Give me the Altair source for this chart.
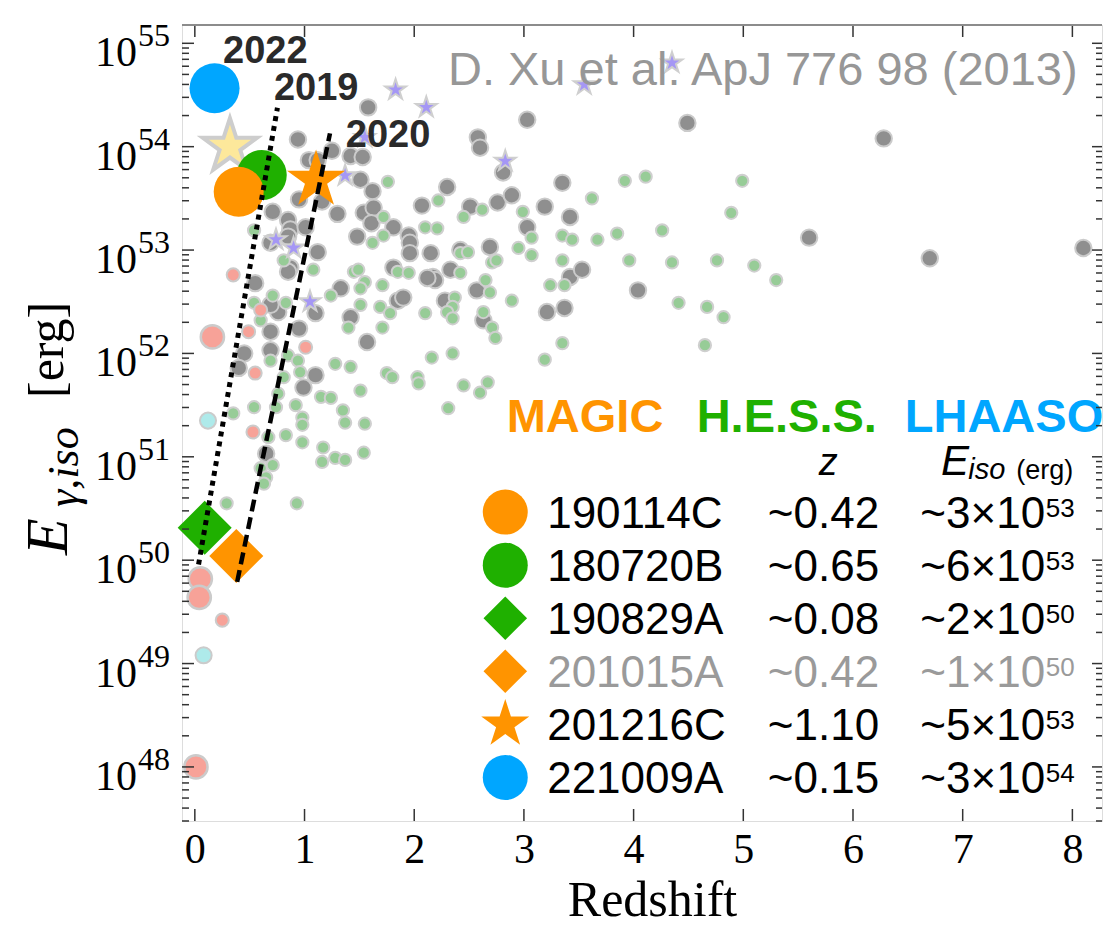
import math
import altair as alt
import pandas as pd

# ---------------- background GRB sample ----------------
grey_z = [1.58, 0.94, 1.25, 1.42, 1.53, 1.04, 1.12, 1.51, 1.62, 0.95, 1.16, 1.30, 0.71, 0.85, 0.87, 1.01,
          1.54, 1.63, 1.61, 1.48, 0.69, 0.85, 1.12, 0.87, 1.81, 1.81,
          3.03, 2.58, 2.60, 2.81, 2.30, 2.07, 2.51, 2.76, 2.89, 3.19, 3.35, 3.42, 3.03, 1.95, 1.96, 1.96,
          2.15, 2.42, 2.69, 2.33, 2.17, 3.42, 3.53,
          0.55, 0.85, 1.33, 0.76, 0.69, 1.10, 0.69, 0.95, 1.42, 1.57, 0.45, 0.69, 0.40, 1.10, 0.99, 0.65, 1.85,
          1.90, 2.19, 2.12, 2.28, 2.57, 2.63, 3.21, 3.37,
          4.49, 6.28, 4.04, 5.60, 6.70, 8.10]
grey_logE = [54.38, 54.07, 53.96, 53.91, 53.90, 53.87, 53.87, 53.68, 53.57, 53.49, 53.47, 53.35, 53.37, 53.29, 53.20, 53.22,
             53.36, 53.41, 53.26, 53.13, 53.07, 53.13, 52.98, 52.83, 52.83, 53.22,
             54.26, 54.09, 53.99, 53.75, 53.61, 53.43, 53.42, 53.46, 53.53, 53.42, 53.65, 53.32, 53.22, 53.14, 53.07, 52.97,
             52.97, 53.00, 53.03, 52.81, 52.74, 52.74, 52.81,
             52.68, 52.79, 52.63, 52.40, 52.47, 52.39, 52.21, 52.24, 52.35, 52.11, 52.00, 52.03, 51.86, 51.79, 51.67, 51.03, 52.51,
             52.54, 52.71, 52.73, 52.51, 52.61, 52.32, 52.40, 52.44,
             54.23, 54.08, 52.61, 53.12, 52.92, 53.02]

green_z = [1.76, 1.72, 1.72, 1.62, 0.54, 0.81, 1.08, 1.45, 1.49,
           2.22, 2.45, 2.62, 2.10, 2.21, 2.99, 3.07, 3.35, 3.44, 3.62, 3.67, 3.85, 2.42, 2.49, 2.95, 3.07, 2.71, 2.75, 3.35, 1.85, 1.95, 2.42,
           0.71, 0.83, 0.54, 0.60, 1.24, 1.55, 1.51, 1.71, 1.51, 1.69, 1.78, 1.40, 1.71,
           0.69, 0.85, 0.94, 0.96, 0.81, 1.28, 1.42, 1.75, 1.80, 0.76, 1.51, 1.15, 1.24, 0.54, 0.74, 0.92, 0.98, 0.98,
           1.35, 1.37, 1.55, 0.35, 0.67, 0.83, 0.98, 1.17, 1.16, 1.28, 1.37, 1.54, 0.71, 0.60, 0.65, 0.29, 0.93, 0.63,
           2.10, 2.37, 2.35, 2.30, 2.35, 2.65, 2.69, 2.89, 2.63, 2.71, 2.74, 3.24, 3.37, 3.35, 3.19, 2.16, 2.35, 2.03,
           2.04, 2.45, 2.60, 2.67, 2.31,
           3.92, 4.11, 4.99, 4.89, 4.26, 3.96, 4.35, 4.76, 5.10, 5.30, 4.41, 4.67, 4.82, 4.65]
green_logE = [53.66, 53.32, 53.14, 53.07, 53.19, 52.90, 52.81, 52.79, 52.81,
              53.48, 53.32, 53.39, 53.22, 53.21, 53.37, 53.12, 53.14, 53.10, 53.50, 53.10, 53.16, 52.97, 52.98, 53.02, 52.95, 52.88, 52.90, 52.90, 52.79, 52.78, 52.78,
              52.56, 52.49, 52.49, 52.32, 52.56, 52.69, 52.63, 52.66, 52.47, 52.45, 52.39, 52.25, 52.25,
              51.93, 51.98, 51.93, 51.82, 51.77, 51.90, 51.87, 51.81, 51.77, 51.61, 51.64, 51.58, 51.57, 51.48, 51.48, 51.50, 51.38, 51.31,
              51.45, 51.33, 51.32, 51.42, 51.19, 51.21, 51.14, 51.09, 50.95, 50.99, 50.97, 51.04, 50.92, 50.89, 50.80, 50.55, 50.55, 50.74,
              52.39, 52.54, 52.45, 52.40, 52.34, 52.71, 52.59, 52.51, 52.40, 52.25, 52.15, 52.66, 52.66, 52.10, 51.94, 51.96, 52.00, 51.77,
              51.71, 51.69, 51.62, 51.72, 51.47,
              53.67, 53.71, 53.67, 53.36, 53.19, 52.90, 52.88, 52.90, 52.85, 52.71, 52.49, 52.45, 52.35, 52.08]

red_big_z = [0.16, 0.05, 0.04, 0.01]
red_big_logE = [52.16, 49.82, 49.64, 48.00]
red_small_z = [0.35, 0.60, 0.49, 1.01, 0.55, 0.53, 0.25]
red_small_logE = [52.76, 52.42, 52.21, 52.06, 51.81, 51.24, 49.42]
cyan_z = [0.12, 0.08]
cyan_logE = [51.35, 49.08]
purple_z = [1.83, 2.11, 2.83, 0.74, 0.90, 1.37, 1.55, 1.05, 4.35, 3.55]
purple_logE = [54.55, 54.38, 53.86, 53.10, 53.02, 53.72, 54.09, 52.50, 54.81, 54.60]

# ---------------- highlighted VHE GRBs ----------------
vhe_names = ["130427A", "180720B", "190114C", "201216C", "190829A", "201015A", "221009A"]
vhe_z = [0.32, 0.61, 0.40, 1.105, 0.09, 0.378, 0.18]
vhe_logE = [54.00, 53.725, 53.564, 53.677, 50.313, 50.04, 54.565]

# ---------------- guide lines ----------------
line2019_z = [0.753, 0.034]
line2019_logE = [54.377, 49.958]
line2020_z = [1.232, 0.386]
line2020_logE = [54.129, 49.79]

# ---------------- annotations ----------------
year_labels = ["2022", "2019", "2020"]
year_z = [0.257, 0.721, 1.376]
year_logE = [54.806, 54.451, 53.999]

facility_labels = ["MAGIC", "H.E.S.S.", "LHAASO"]
facility_z = [2.843, 4.575, 6.472]

table_names = ["190114C", "180720B", "190829A", "201015A", "201216C", "221009A"]
table_redshift = ["~0.42", "~0.65", "~0.08", "~0.42", "~1.10", "~0.15"]
table_E = ["~3×10", "~6×10", "~2×10", "~1×10", "~5×10", "~3×10"]
table_E_exp = ["53", "53", "50", "50", "53", "54"]

x_ticks = [0, 1, 2, 3, 4, 5, 6, 7, 8]
y_decades = [48, 49, 50, 51, 52, 53, 54, 55]

# ---------------- styles / layout ----------------
ORANGE, GREEN, BLUE = "#ff9400", "#1fb000", "#00a6ff"
STAR = ("M0,-1L0.2245,-0.309L0.9511,-0.309L0.3633,0.118L0.5878,0.809L0,0.382"
        "L-0.5878,0.809L-0.3633,0.118L-0.9511,-0.309L-0.2245,-0.309Z")
W, H = 920, 796
XMIN, XMAX = -0.117, 8.27
YMIN, YMAX = 47.477, 55.177
SANS = "Liberation Sans"
SERIF = "Liberation Serif"

xscale = alt.Scale(domain=[XMIN, XMAX], nice=False, zero=False)
yscale = alt.Scale(domain=[YMIN, YMAX], nice=False, zero=False)
xaxis = alt.Axis(values=x_ticks, format="d", labelFont=SERIF, labelFontSize=42, labelColor="black",
                 labelPadding=8, ticks=False, tickSize=0, domain=False, grid=False,
                 labelFlush=False, labelOverlap=False,
                 title="Redshift", titleFont=SERIF, titleFontSize=50, titleFontWeight="normal",
                 titleColor="black", titleBaseline="alphabetic", titleY=94, titleX=470)
X = alt.X("z:Q", scale=xscale, axis=xaxis)
Y = alt.Y("logE:Q", scale=yscale, axis=None)


def df(**cols):
    return pd.DataFrame(cols)


def points(data, shape, fill, size, stroke=None, sw=0):
    kw = dict(shape=shape, filled=True, fill=fill, size=size, opacity=1)
    if stroke is not None:
        kw.update(stroke=stroke, strokeWidth=sw)
    else:
        kw.update(strokeWidth=0)
    return alt.Chart(data).mark_point(**kw).encode(x=X, y=Y)


layers = []

# background sample
layers.append(points(df(z=grey_z, logE=grey_logE), "circle", "#8f8f8f", 270, "#cbcbcb", 2))
layers.append(points(df(z=green_z, logE=green_logE), "circle", "#97cc97", 150, "#cfcfcf", 2))
layers.append(points(df(z=red_big_z, logE=red_big_logE), "circle", "#f7a298", 540, "#cbcbcb", 2.5))
layers.append(points(df(z=red_small_z, logE=red_small_logE), "circle", "#f7a298", 170, "#cbcbcb", 2))
layers.append(points(df(z=cyan_z, logE=cyan_logE), "circle", "#aeeaea", 260, "#cbcbcb", 2))
layers.append(points(df(z=purple_z, logE=purple_logE), STAR, "#a597f5", 475, "#cfcfcf", 2))

# highlighted GRBs
vhe = df(name=vhe_names, z=vhe_z, logE=vhe_logE)
vhe_style = {
    "130427A": (STAR, "#fde89b", 3250, "#cdcdcd", 4),
    "180720B": ("circle", GREEN, 2500, None, 0),
    "190114C": ("circle", ORANGE, 2500, None, 0),
    "201216C": (STAR, ORANGE, 3721, None, 0),
    "190829A": ("diamond", GREEN, 2916, None, 0),
    "201015A": ("diamond", ORANGE, 2916, None, 0),
    "221009A": ("circle", BLUE, 2500, None, 0),
}
for n in vhe_names:
    shape, fill, size, stroke, sw = vhe_style[n]
    layers.append(points(vhe[vhe.name == n], shape, fill, size, stroke, sw))

# guide lines
layers.append(alt.Chart(df(z=line2019_z, logE=line2019_logE)).mark_line(
    color="black", strokeWidth=5, strokeDash=[5, 5]).encode(x=X, y=Y))
layers.append(alt.Chart(df(z=line2020_z, logE=line2020_logE)).mark_line(
    color="black", strokeWidth=4.5, strokeDash=[12, 6]).encode(x=X, y=Y))

# year labels
layers.append(alt.Chart(df(z=year_z, logE=year_logE, t=year_labels)).mark_text(
    align="left", baseline="alphabetic", font=SANS, fontSize=38, fontWeight="bold", color="#2a2a2a"
).encode(x=X, y=Y, text="t:N"))

# reference
layers.append(alt.Chart(df(z=[8.048], logE=[54.596], t=["D. Xu et al. ApJ 776 98 (2013)"])).mark_text(
    align="right", baseline="alphabetic", font=SANS, fontSize=47, color="#979797"
).encode(x=X, y=Y, text="t:N"))

# legend header
for lab, zz, col in zip(facility_labels, facility_z, [ORANGE, GREEN, BLUE]):
    layers.append(alt.Chart(df(z=[zz], logE=[51.242], t=[lab])).mark_text(
        align="left", baseline="alphabetic", font=SANS, fontSize=47, fontWeight="bold", color=col
    ).encode(x=X, y=Y, text="t:N"))
layers.append(alt.Chart(df(z=[5.775], logE=[50.825], t=["z"])).mark_text(
    align="center", baseline="alphabetic", font=SANS, fontSize=38, fontStyle="italic", color="black"
).encode(x=X, y=Y, text="t:N"))
layers.append(alt.Chart(df(z=[6.803], logE=[50.822], t=["E"])).mark_text(
    align="left", baseline="alphabetic", font=SANS, fontSize=42, fontStyle="italic", color="black"
).encode(x=X, y=Y, text="t:N"))
layers.append(alt.Chart(df(z=[7.051], logE=[50.784], t=["iso"])).mark_text(
    align="left", baseline="alphabetic", font=SANS, fontSize=29, fontStyle="italic", color="black"
).encode(x=X, y=Y, text="t:N"))
layers.append(alt.Chart(df(z=[7.489], logE=[50.784], t=["(erg)"])).mark_text(
    align="left", baseline="alphabetic", font=SANS, fontSize=27, color="black"
).encode(x=X, y=Y, text="t:N"))

# legend rows
ROW0, ROWSTEP = 50.465, 0.5133
row_logE = [ROW0 - i * ROWSTEP for i in range(len(table_names))]
row_style = [("circle", ORANGE, 2025), ("circle", GREEN, 2025), ("diamond", GREEN, 1900),
             ("diamond", ORANGE, 1900), (STAR, ORANGE, 2550), ("circle", BLUE, 2025)]
row_color = ["black", "black", "black", "#9a9a9a", "black", "black"]
for i, (shape, fill, size) in enumerate(row_style):
    layers.append(points(df(z=[2.83], logE=[row_logE[i]]), shape, fill, size))
    r = df(logE=[row_logE[i]] * 4, z=[3.212, 5.223, 6.614, 7.758],
           t=[table_names[i], table_redshift[i], table_E[i], table_E_exp[i]], k=["a", "a", "a", "b"])
    layers.append(alt.Chart(r[r.k == "a"]).mark_text(
        align="left", baseline="alphabetic", font=SANS, fontSize=44, color=row_color[i], dy=16
    ).encode(x=X, y=Y, text="t:N"))
    layers.append(alt.Chart(r[r.k == "b"]).mark_text(
        align="left", baseline="alphabetic", font=SANS, fontSize=26, color=row_color[i], dy=5
    ).encode(x=X, y=Y, text="t:N"))

# y axis labels 10^n
ylab = df(logE=y_decades, t=["10"] * len(y_decades), e=[str(d) for d in y_decades])
layers.append(alt.Chart(ylab).mark_text(
    align="right", baseline="alphabetic", font=SERIF, fontSize=42, color="black", dy=23
).encode(x=alt.value(-45), y=Y, text="t:N"))
layers.append(alt.Chart(ylab).mark_text(
    align="left", baseline="alphabetic", font=SERIF, fontSize=32, color="black", dy=3
).encode(x=alt.value(-44), y=Y, text="e:N"))

# y axis title  E_{gamma,iso} [erg]
layers.append(alt.Chart(df(a=[0])).mark_text(
    align="left", baseline="alphabetic", angle=270, font=SERIF, fontSize=60, fontStyle="italic", color="black"
).encode(x=alt.value(-115), y=alt.value(530), text=alt.value("E")))
layers.append(alt.Chart(df(a=[0])).mark_text(
    align="left", baseline="alphabetic", angle=270, font=SERIF, fontSize=44, fontStyle="italic", color="black"
).encode(x=alt.value(-104), y=alt.value(482), text=alt.value("γ,iso")))
layers.append(alt.Chart(df(a=[0])).mark_text(
    align="left", baseline="alphabetic", angle=270, font=SERIF, fontSize=50, color="black"
).encode(x=alt.value(-119), y=alt.value(373), text=alt.value("[erg]")))

# inward ticks
minor = [n + math.log10(k) for n in range(47, 55) for k in range(2, 10)
         if YMIN < n + math.log10(k) < YMAX]
maj = df(logE=y_decades)
mnr = df(logE=minor)
tick_col = "#333333"
layers.append(alt.Chart(maj).mark_rule(color=tick_col, strokeWidth=1.5).encode(y=Y, x=alt.value(0), x2=alt.value(12)))
layers.append(alt.Chart(mnr).mark_rule(color=tick_col, strokeWidth=1.5).encode(y=Y, x=alt.value(0), x2=alt.value(7)))
layers.append(alt.Chart(maj).mark_rule(color=tick_col, strokeWidth=1.5).encode(y=Y, x=alt.value(W), x2=alt.value(W - 10)))
layers.append(alt.Chart(mnr).mark_rule(color=tick_col, strokeWidth=1.5).encode(y=Y, x=alt.value(W), x2=alt.value(W - 6)))
xt = df(z=x_ticks)
layers.append(alt.Chart(xt).mark_rule(color=tick_col, strokeWidth=1.5).encode(x=X, y=alt.value(H), y2=alt.value(H - 12)))
layers.append(alt.Chart(xt).mark_rule(color=tick_col, strokeWidth=1.5).encode(x=X, y=alt.value(0), y2=alt.value(12)))
# top frame edge (lighter)
layers.append(alt.Chart(df(a=[0])).mark_rule(color="#8c8c8c", strokeWidth=2).encode(
    x=alt.value(0), x2=alt.value(W), y=alt.value(0)))

chart = alt.layer(*layers).properties(
    width=W, height=H,
    autosize=alt.AutoSizeParams(type="none"),
    padding={"left": 182, "top": 25, "right": 3, "bottom": 110},
).configure_view(stroke="#111111", strokeWidth=2).configure(background="white")

chart.save("out.html", embed_options={"renderer": "svg", "actions": False})
